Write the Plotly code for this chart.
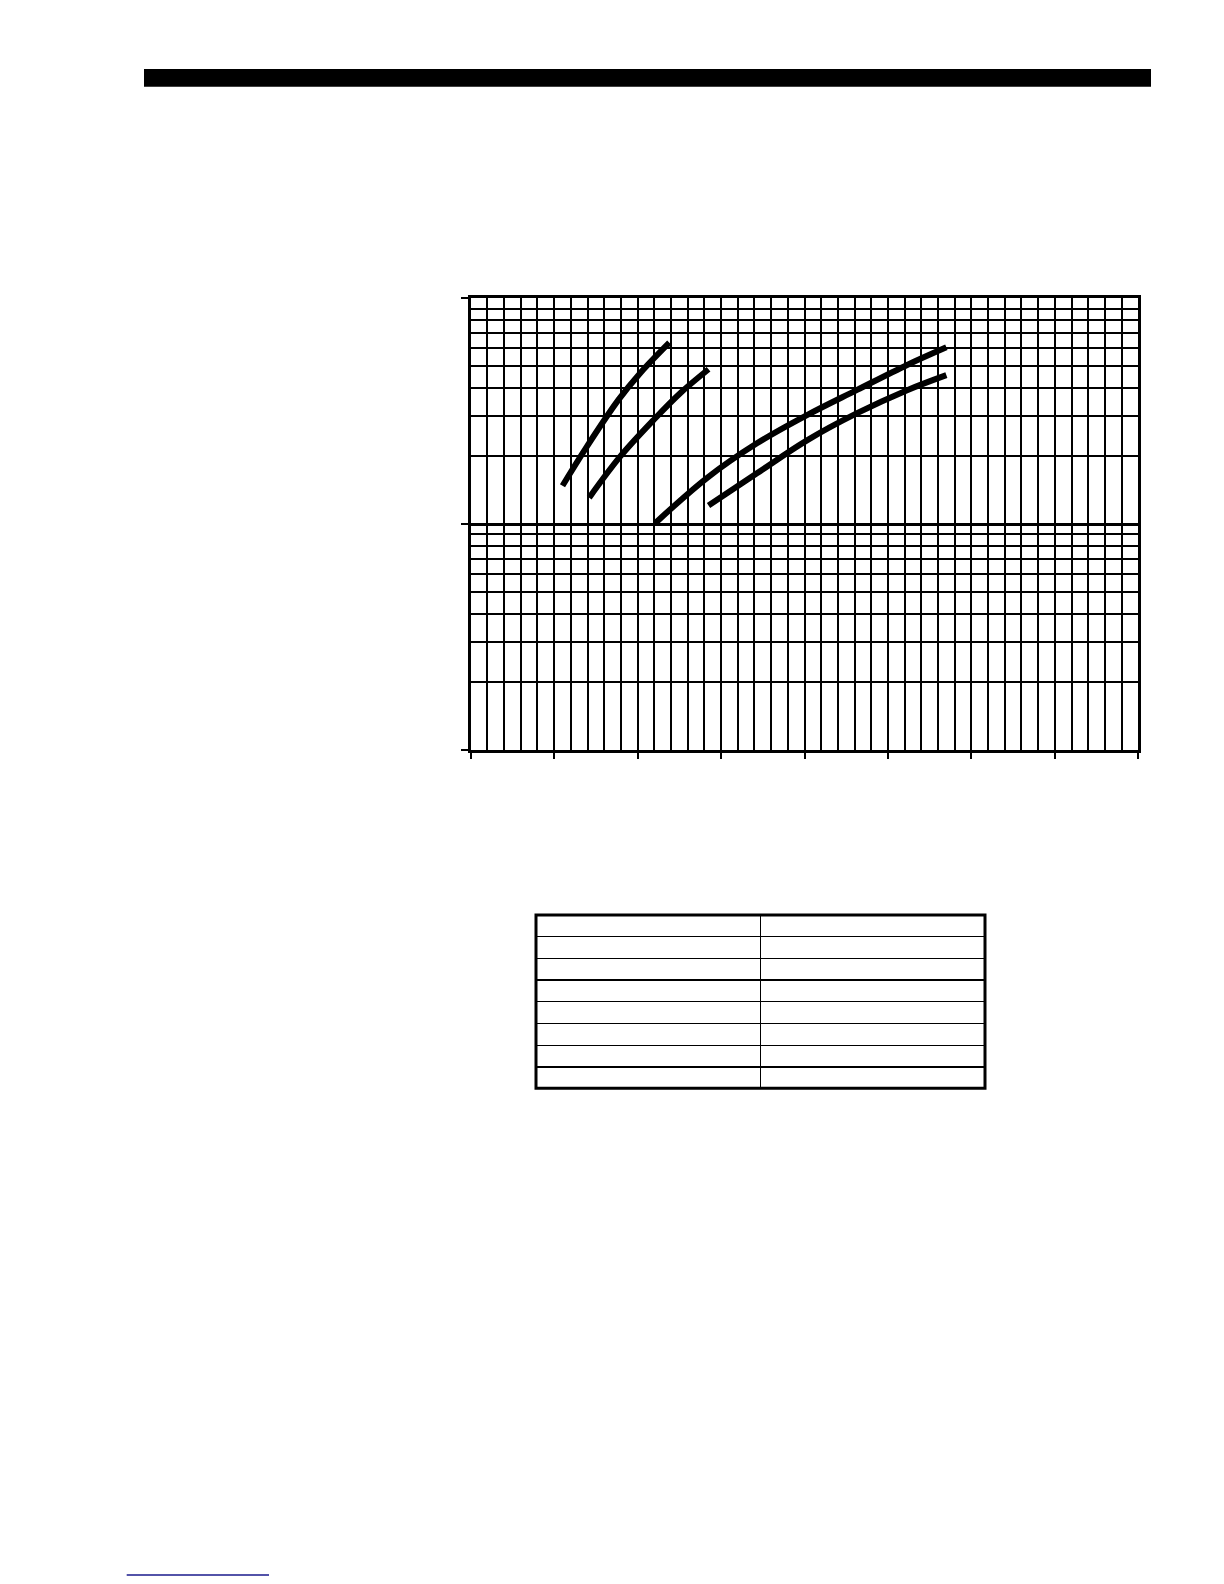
import plotly.graph_objects as go

W, H = 1224, 1584

# Curve data (x in major-division units, y on log scale, one decade = 1..10..100)
curve_a_x = [1.10, 1.39, 1.77, 2.03, 2.38]
curve_a_y = [14.8, 22.0, 35.5, 46.6, 63.6]
curve_b_x = [1.42, 1.79, 2.19, 2.51, 2.85]
curve_b_y = [13.1, 19.9, 28.9, 38.0, 48.5]
curve_c_x = [2.21, 2.83, 3.43, 4.03, 4.63, 5.23, 5.70]
curve_c_y = [10.1, 16.0, 22.8, 30.4, 39.3, 50.7, 60.7]
curve_d_x = [2.85, 3.43, 4.03, 4.63, 5.23, 5.70]
curve_d_y = [12.1, 16.8, 23.5, 31.0, 39.2, 45.7]

# Empty table (2 columns x 8 rows, text not present in source)
table_col1 = [""] * 7
table_col2 = [""] * 7


def px(x):
    return x / W


def py(y):
    return 1 - y / H


fig = go.Figure()
for xs, ys in [(curve_a_x, curve_a_y), (curve_b_x, curve_b_y),
               (curve_c_x, curve_c_y), (curve_d_x, curve_d_y)]:
    fig.add_trace(go.Scatter(x=xs, y=ys, mode="lines",
                             line=dict(color="black", width=6, shape="spline", smoothing=1.0),
                             showlegend=False, hoverinfo="skip"))

fig.add_trace(go.Table(
    domain=dict(x=[px(536), px(985)], y=[py(1090), py(915)]),
    columnwidth=[1, 1],
    header=dict(values=["", ""], height=21.7, fill_color="white",
                line=dict(color="black", width=1.3)),
    cells=dict(values=[table_col1, table_col2], height=21.7, fill_color="white",
               line=dict(color="black", width=1.3)),
))

fig.update_xaxes(
    domain=[px(470.7), px(1138.3)], range=[0, 8], dtick=1, tick0=0,
    showticklabels=False, ticks="outside", ticklen=6, tickwidth=2, tickcolor="black",
    showgrid=True, gridcolor="black", gridwidth=1.9,
    minor=dict(dtick=0.2, showgrid=True, gridcolor="black", gridwidth=1.8),
    showline=True, linecolor="black", linewidth=2.8, mirror=True,
    zeroline=False, fixedrange=True,
)
fig.update_yaxes(
    domain=[py(750), py(298.3)], type="log", range=[0, 2], dtick=1,
    showticklabels=False, ticks="outside", ticklen=7, tickwidth=2, tickcolor="black",
    showgrid=True, gridcolor="black", gridwidth=2.6,
    minor=dict(dtick="D1", showgrid=True, gridcolor="black", gridwidth=1.7),
    showline=True, linecolor="black", linewidth=2.8, mirror=True,
    zeroline=False, fixedrange=True,
)

shapes = [
    # top black bar
    dict(type="rect", xref="paper", yref="paper", x0=px(144), x1=px(1151),
         y0=py(86.7), y1=py(69), fillcolor="black", line=dict(width=0)),
    # table outer frame
    dict(type="rect", xref="paper", yref="paper", x0=px(536), x1=px(985),
         y0=py(1088.3), y1=py(915), line=dict(color="black", width=3)),
    # blue link underline
    dict(type="line", xref="paper", yref="paper", x0=px(126.7), x1=px(269),
         y0=py(1575), y1=py(1575), line=dict(color="#1a1a8c", width=1.5)),
]

fig.update_layout(
    width=W, height=H, margin=dict(l=0, r=0, t=0, b=0),
    paper_bgcolor="white", plot_bgcolor="white", shapes=shapes,
    showlegend=False,
)

fig.write_html("out.html", config={"displayModeBar": False},
               post_script="document.body.style.margin='0';")
